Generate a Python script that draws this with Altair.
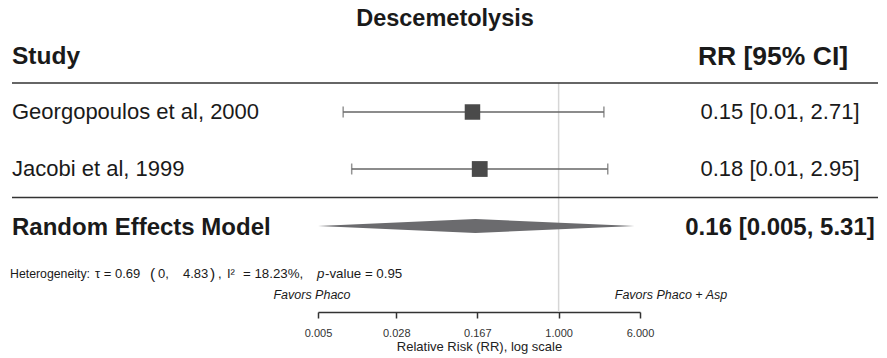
import altair as alt
import pandas as pd

# ---- data ----
study_names = ["Georgopoulos et al, 2000", "Jacobi et al, 1999"]
study_rr = [0.15, 0.176]
study_lo = [0.0087, 0.0105]
study_hi = [2.71, 2.95]
study_text = ["0.15 [0.01, 2.71]", "0.18 [0.01, 2.95]"]
study_weight = [240, 250]
study_row = [1, 2]

summary_name = ["Random Effects Model"]
summary_rr = [0.16]
summary_lo = [0.005]
summary_hi = [5.31]
summary_text = ["0.16 [0.005, 5.31]"]
summary_row = [3]

tick_values = [0.005, 0.028, 0.167, 1.0, 6.0]
ref_value = [1.0]

title_text = "Descemetolysis"
het_parts = ["Heterogeneity:", "τ = 0.69", "(", "0,", "4.83", ")", ",", "I²", "= 18.23%,", "p", "-value = 0.95"]
het_x = [10, 95, 150, 158, 183, 210, 218, 227, 243, 317, 325]
het_size = [12.3, 13, 15.5, 13, 13, 15.5, 13, 13, 13.3, 13.3, 13.3]
het_style = ["normal"] * 9 + ["italic", "normal"]
favor_left = "Favors Phaco"
favor_right = "Favors Phaco + Asp"
axis_title = "Relative Risk (RR), log scale"

FONT = "Liberation Sans"

studies = pd.DataFrame({"name": study_names, "rr": study_rr, "lo": study_lo,
                        "hi": study_hi, "label": study_text, "w": study_weight,
                        "row": study_row})
summary = pd.DataFrame({"name": summary_name, "rr": summary_rr, "lo": summary_lo,
                        "hi": summary_hi, "label": summary_text, "row": summary_row})

half_h = 0.123  # diamond half height in row units
diamond = pd.DataFrame({
    "x": [summary_lo[0], summary_rr[0], summary_hi[0]],
    "ytop": [summary_row[0], summary_row[0] - half_h, summary_row[0]],
    "ybot": [summary_row[0], summary_row[0] + half_h, summary_row[0]],
})

xscale = alt.Scale(type="log", domain=[tick_values[0], tick_values[-1]], range=[318, 640], nice=False)
yscale = alt.Scale(domain=[1, 3], range=[112, 226], zero=False, nice=False)
xaxis = alt.Axis(values=tick_values, format=".3f", title=axis_title, grid=False,
                 domainColor="#333333", domainWidth=1.5, tickColor="#333333", tickWidth=1.5,
                 tickSize=6, labelPadding=9, labelFontSize=11, labelFont=FONT,
                 labelColor="#333333", labelFlush=False, titleFont=FONT, titleFontSize=13,
                 titleFontWeight="normal", titleColor="#222222", titlePadding=2)

def X(field):
    return alt.X(field, type="quantitative", scale=xscale, axis=xaxis)

def Y(field):
    return alt.Y(field, type="quantitative", scale=yscale, axis=None)

base_s = alt.Chart(studies)
base_m = alt.Chart(summary)

vline = alt.Chart(pd.DataFrame({"v": ref_value})).mark_rule(color="#d6d6d6", strokeWidth=1.5).encode(
    x=X("v"), y=alt.value(83), y2=alt.value(312))

hlines = alt.Chart(pd.DataFrame({"k": ["header", "sep"], "yy": [83, 197.5]})).mark_rule(
    color="#333333", strokeWidth=1.6).encode(
    x=alt.value(12), x2=alt.value(878), y=alt.Y("yy:Q", scale=None, axis=None))

ci = base_s.mark_rule(color="#666666", strokeWidth=1.5).encode(x=X("lo"), x2="hi", y=Y("row"))
cap_lo = base_s.mark_tick(orient="vertical", color="#666666", thickness=1.5, size=11).encode(x=X("lo"), y=Y("row"))
cap_hi = base_s.mark_tick(orient="vertical", color="#666666", thickness=1.5, size=11).encode(x=X("hi"), y=Y("row"))
boxes = base_s.mark_square(color="#4a4a4a", opacity=1).encode(
    x=X("rr"), y=Y("row"), size=alt.Size("w:Q", scale=None, legend=None))

dia = alt.Chart(diamond).mark_area(color="#6b6b6e", opacity=1).encode(
    x=X("x"), y=Y("ytop"), y2="ybot")

names = base_s.mark_text(align="left", baseline="middle", font=FONT, fontSize=22, color="#1a1a1a").encode(
    x=alt.value(12), y=Y("row"), text="name:N")
labels = base_s.mark_text(align="center", baseline="middle", font=FONT, fontSize=22, color="#1a1a1a").encode(
    x=alt.value(780), y=Y("row"), text="label:N")
sum_name = base_m.mark_text(align="left", baseline="middle", dy=2, font=FONT, fontSize=24, fontWeight="bold", color="#1a1a1a").encode(
    x=alt.value(12), y=Y("row"), text="name:N")
sum_label = base_m.mark_text(align="center", baseline="middle", dy=2, font=FONT, fontSize=24, fontWeight="bold", color="#1a1a1a").encode(
    x=alt.value(780), y=Y("row"), text="label:N")

def txt(s, x, y, size, weight="normal", style="normal", align="left", color="#1a1a1a"):
    return alt.Chart(pd.DataFrame({"t": [s]})).mark_text(
        align=align, baseline="middle", font=FONT, fontSize=size, fontWeight=weight,
        fontStyle=style, color=color).encode(x=alt.value(x), y=alt.value(y), text="t:N")

title = txt(title_text, 445, 19, 23.5, weight="bold", align="center")
h_study = txt("Study", 12, 57, 24.5, weight="bold")
h_rr = txt("RR [95% CI]", 773, 57, 26.5, weight="bold", align="center")
het = [txt(p, x, 274, sz, style=s) for p, x, sz, s in zip(het_parts, het_x, het_size, het_style)]
fav_l = txt(favor_left, 312, 295, 12.5, style="italic", align="center")
fav_r = txt(favor_right, 671, 295, 12.5, style="italic", align="center")

chart = alt.layer(
    vline, hlines, ci, cap_lo, cap_hi, dia, boxes,
    names, labels, sum_name, sum_label,
    title, h_study, h_rr, *het, fav_l, fav_r,
).properties(
    width=887, height=312,
    autosize=alt.AutoSizeParams(type="none"),
    padding={"left": 0, "top": 0, "right": 0, "bottom": 46},
    background="white",
).configure_view(stroke=None)

chart.save("out.html", embed_options={"renderer": "svg", "actions": False})
